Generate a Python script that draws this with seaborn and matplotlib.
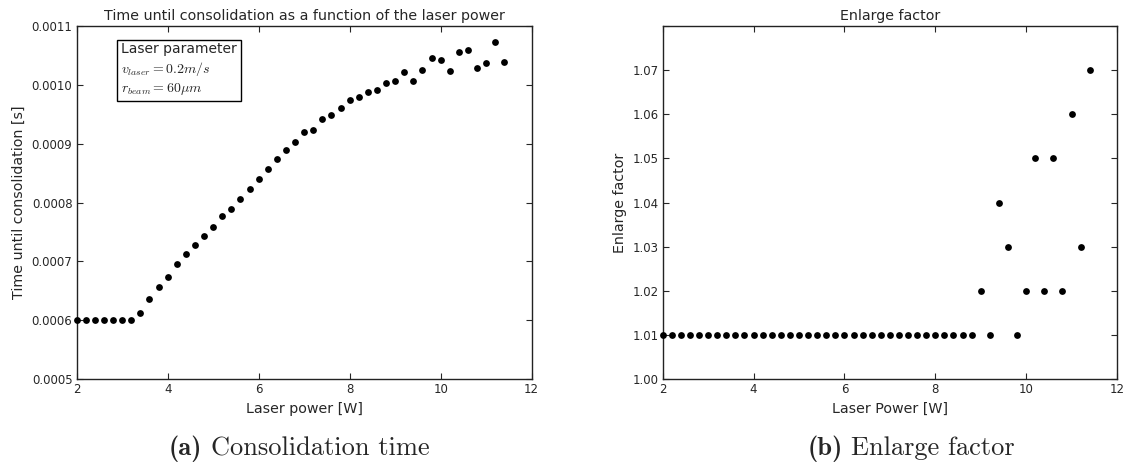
### Bibliotecas
import numpy as np
import pandas as pd
import matplotlib
matplotlib.use("Agg")
import matplotlib.pyplot as plt
import matplotlib.ticker as mticker
from matplotlib.offsetbox import TextArea, HPacker, AnchoredOffsetbox
import seaborn as sns

### Dados
potencia = [2.0, 2.2, 2.4, 2.6, 2.8, 3.0, 3.2, 3.4, 3.6, 3.8,
            4.0, 4.2, 4.4, 4.6, 4.8, 5.0, 5.2, 5.4, 5.6, 5.8,
            6.0, 6.2, 6.4, 6.6, 6.8, 7.0, 7.2, 7.4, 7.6, 7.8,
            8.0, 8.2, 8.4, 8.6, 8.8, 9.0, 9.2, 9.4, 9.6, 9.8,
            10.0, 10.2, 10.4, 10.6, 10.8, 11.0, 11.2, 11.4]

tempo = [0.000600, 0.000600, 0.000600, 0.000600, 0.000600, 0.000600, 0.000600, 0.000613, 0.000636, 0.000657,
         0.000673, 0.000696, 0.000713, 0.000727, 0.000743, 0.000759, 0.000777, 0.000789, 0.000806, 0.000823,
         0.000840, 0.000857, 0.000874, 0.000890, 0.000902, 0.000920, 0.000923, 0.000942, 0.000948, 0.000960,
         0.000975, 0.000979, 0.000988, 0.000992, 0.001003, 0.001007, 0.001022, 0.001007, 0.001025, 0.001046,
         0.001043, 0.001023, 0.001056, 0.001060, 0.001029, 0.001037, 0.001073, 0.001039]

fator = [1.01, 1.01, 1.01, 1.01, 1.01, 1.01, 1.01, 1.01, 1.01, 1.01,
         1.01, 1.01, 1.01, 1.01, 1.01, 1.01, 1.01, 1.01, 1.01, 1.01,
         1.01, 1.01, 1.01, 1.01, 1.01, 1.01, 1.01, 1.01, 1.01, 1.01,
         1.01, 1.01, 1.01, 1.01, 1.01, 1.02, 1.01, 1.04, 1.03, 1.01,
         1.02, 1.05, 1.02, 1.05, 1.02, 1.06, 1.03, 1.07]

ticks_x = [2, 4, 6, 8, 10, 12]
ticks_tempo = [0.0005, 0.0006, 0.0007, 0.0008, 0.0009, 0.0010, 0.0011]
ticks_fator = [1.00, 1.01, 1.02, 1.03, 1.04, 1.05, 1.06, 1.07, 1.08]

dados = pd.DataFrame({"Potencia": potencia, "Tempo": tempo, "Fator": fator})

### Estilo (parecido com o matplotlib clássico)
sns.set_style("ticks")
plt.rcParams["font.family"] = ["DejaVu Sans"]
plt.rcParams["mathtext.fontset"] = "cm"
plt.rcParams["axes.edgecolor"] = "#222222"
plt.rcParams["axes.linewidth"] = 1.0

fig = plt.figure(figsize = (11.34, 4.66), dpi = 100)
ax_a = fig.add_axes([0.0676, 0.1867, 0.4012, 0.7575])
ax_b = fig.add_axes([0.5844, 0.1867, 0.4006, 0.7575])

### (a) Tempo até consolidação
sns.scatterplot(data = dados, x = "Potencia", y = "Tempo", ax = ax_a, color = "black",
                s = 24, linewidth = 0, clip_on = False, zorder = 3)
ax_a.set_xlim(2, 12)
ax_a.set_ylim(0.0005, 0.0011)
ax_a.set_yticks(ticks_tempo)
ax_a.yaxis.set_major_formatter(mticker.FormatStrFormatter("%.4f"))
ax_a.set_title("Time until consolidation as a function of the laser power", fontsize = 10.3, pad = 4)
ax_a.set_xlabel("Laser power [W]", fontsize = 10.3)
ax_a.set_ylabel("Time until consolidation [s]", fontsize = 10.3)
ax_a.text(0.097, 0.955, "Laser parameter\n$v_{laser} = 0.2 m/s$\n$r_{beam} = 60 \\mu m$",
          transform = ax_a.transAxes, ha = "left", va = "top", fontsize = 10, linespacing = 1.3,
          bbox = dict(boxstyle = "square,pad=0.3", facecolor = "white", edgecolor = "black"))

### (b) Fator de alargamento
sns.scatterplot(data = dados, x = "Potencia", y = "Fator", ax = ax_b, color = "black",
                s = 24, linewidth = 0, clip_on = False, zorder = 3)
ax_b.set_xlim(2, 12)
ax_b.set_ylim(1.00, 1.08)
ax_b.set_yticks(ticks_fator)
ax_b.set_yticklabels([f"{v:.2f}" for v in ticks_fator[:-1]] + [""])
ax_b.set_title("Enlarge factor", fontsize = 10.3, pad = 4)
ax_b.set_xlabel("Laser Power [W]", fontsize = 10.3)
ax_b.set_ylabel("Enlarge factor", fontsize = 10.3)

for ax in [ax_a, ax_b]:
    ax.set_xticks(ticks_x)
    ax.tick_params(direction = "in", length = 4, width = 0.8, top = True, right = True,
                   labelsize = 8.5, pad = 3)
    for lado in ["top", "right", "left", "bottom"]:
        ax.spines[lado].set_visible(True)

### Legendas das subfiguras (estilo LaTeX)
def legenda(letra, texto, x_px):
    partes = HPacker(children = [TextArea(letra, textprops = dict(family = "cmb10", size = 19)),
                                 TextArea(texto, textprops = dict(family = "cmr10", size = 19))],
                     align = "baseline", pad = 0, sep = 6)
    caixa = AnchoredOffsetbox(loc = "center", child = partes, pad = 0, borderpad = 0, frameon = False,
                              bbox_to_anchor = (x_px / 1134, 1 - 449 / 466),
                              bbox_transform = fig.transFigure)
    fig.add_artist(caixa)

legenda("(a)", "Consolidation time", 299)
legenda("(b)", "Enlarge factor", 911)

fig.savefig("out.png", dpi = 100)
